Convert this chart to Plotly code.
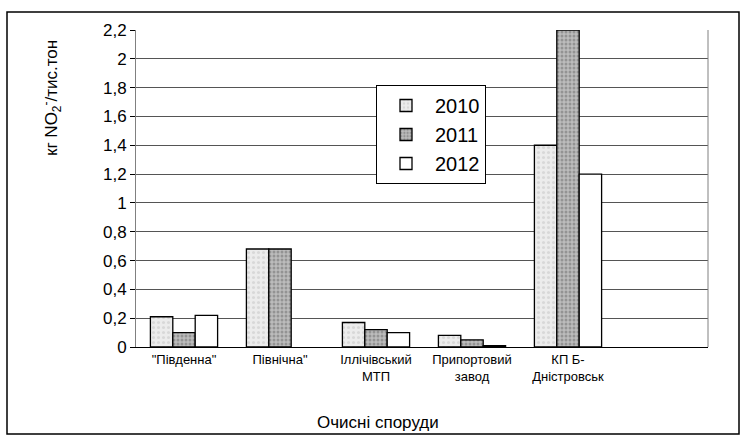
import plotly.graph_objects as go

categories = ['"Південна"', 'Північна"', 'Іллічівський<br>МТП', 'Припортовий<br>завод', 'КП Б-<br>Дністровськ']
years = ["2010", "2011", "2012"]
v2010 = [0.21, 0.68, 0.17, 0.08, 1.40]
v2011 = [0.10, 0.68, 0.12, 0.05, 2.20]
v2012 = [0.22, None, 0.10, 0.01, 1.20]
y_ticks = [0, 0.2, 0.4, 0.6, 0.8, 1.0, 1.2, 1.4, 1.6, 1.8, 2.0, 2.2]

x_idx = list(range(len(categories)))

styles = [
    dict(color="#e4e4e4", pattern=dict(shape=".", fgcolor="#c4c4c4", bgcolor="#ececec", size=5, solidity=0.3)),
    dict(color="#a8a8a8", pattern=dict(shape=".", fgcolor="#6a6a6a", bgcolor="#bcbcbc", size=4, solidity=0.45)),
    dict(color="#ffffff"),
]

fig = go.Figure()
for name, vals, st in zip(years, [v2010, v2011, v2012], styles):
    marker = dict(color=st["color"], line=dict(color="black", width=1.3))
    if "pattern" in st:
        marker["pattern"] = st["pattern"]
    fig.add_trace(go.Bar(name=name, x=x_idx, y=vals, marker=marker))

L, R, T, B = 136, 708, 30, 347
W, H = 741, 435
px = lambda p: (p - L) / (R - L)
py = lambda p: (B - p) / (B - T)

fig.update_layout(
    width=W, height=H,
    margin=dict(l=L, r=W - R, t=T, b=H - B),
    paper_bgcolor="white", plot_bgcolor="white",
    separators=", ",
    barmode="group", bargap=0.3, bargroupgap=0.0,
    font=dict(family="Liberation Sans, Arial", color="black"),
    showlegend=True,
    legend=dict(
        x=px(376), y=py(85), xanchor="left", yanchor="top",
        bordercolor="black", borderwidth=1, bgcolor="white",
        font=dict(size=20), itemwidth=48, tracegroupgap=0,
    ),
    xaxis=dict(
        range=[-0.5, -0.5 + (R - L) / 96.0],
        tickmode="array", tickvals=x_idx, ticktext=categories,
        tickfont=dict(size=13), showgrid=False, zeroline=False,
        showline=True, linecolor="black", linewidth=1,
        ticks="", fixedrange=True,
    ),
    yaxis=dict(
        range=[0, 2.2], tickmode="array", tickvals=y_ticks,
        tickfont=dict(size=17), showgrid=True, gridcolor="#555555", gridwidth=1,
        zeroline=False, showline=True, linecolor="#808080", linewidth=1,
        ticks="outside", ticklen=5, tickcolor="black",
    ),
    annotations=[
        dict(text="кг NO<sub>2</sub><sup>-</sup>/тис.тон", textangle=-90,
             xref="paper", yref="paper", x=px(51), y=py(98),
             xanchor="center", yanchor="middle",
             showarrow=False, font=dict(size=17)),
        dict(text="Очисні споруди", xref="paper", yref="paper",
             x=px(378), y=py(422), xanchor="center", yanchor="middle",
             showarrow=False, font=dict(size=17)),
    ],
    shapes=[
        dict(type="rect", xref="paper", yref="paper",
             x0=px(7), x1=px(739), y0=py(434), y1=py(12),
             line=dict(color="black", width=1.5), fillcolor="rgba(0,0,0,0)", layer="below"),
        dict(type="line", xref="paper", yref="paper",
             x0=1, x1=1, y0=0, y1=1, line=dict(color="#808080", width=1)),
    ],
)

fig.write_html("out.html")
